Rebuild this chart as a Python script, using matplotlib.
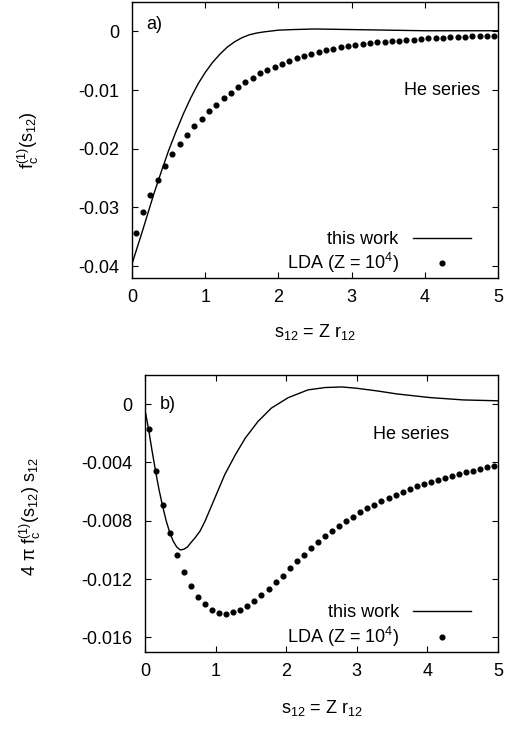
import numpy as np
import matplotlib
matplotlib.use("Agg")
import matplotlib.pyplot as plt

plt.rcParams['font.family'] = ['Liberation Sans', 'DejaVu Sans']
plt.rcParams['mathtext.fontset'] = 'custom'
plt.rcParams['mathtext.rm'] = 'Liberation Sans'
plt.rcParams['mathtext.it'] = 'Liberation Sans:italic'
FS = 13
plt.rcParams['font.size'] = FS

# LDA points (same grid for both panels)
s_lda = [0.05, 0.15, 0.25, 0.35, 0.45, 0.55, 0.65, 0.75, 0.85, 0.95,
         1.05, 1.15, 1.25, 1.35, 1.45, 1.55, 1.65, 1.75, 1.85, 1.95,
         2.05, 2.15, 2.25, 2.35, 2.45, 2.55, 2.65, 2.75, 2.85, 2.95,
         3.05, 3.15, 3.25, 3.35, 3.45, 3.55, 3.65, 3.75, 3.85, 3.95,
         4.05, 4.15, 4.25, 4.35, 4.45, 4.55, 4.65, 4.75, 4.85, 4.95]

fa_lda = [-0.0343, -0.03085, -0.02785, -0.02525, -0.02294, -0.02096, -0.01921, -0.01763, -0.01616, -0.01486,
          -0.01356, -0.01249, -0.01141, -0.01045, -0.00955, -0.0087, -0.0079, -0.00717, -0.00655, -0.00599,
          -0.00548, -0.00497, -0.00452, -0.00412, -0.00378, -0.0035, -0.00316, -0.00294, -0.00271, -0.00249,
          -0.00232, -0.00215, -0.00200, -0.0019, -0.0018, -0.0017, -0.0016, -0.0015, -0.0014, -0.00128,
          -0.0012, -0.00113, -0.00106, -0.0010, -0.00096, -0.0009, -0.00085, -0.0008, -0.00076, -0.00072]

fb_lda = [-0.00171, -0.00461, -0.00695, -0.00882, -0.01032, -0.01154, -0.01247, -0.0132, -0.01374, -0.01413,
          -0.01432, -0.01436, -0.01427, -0.01409, -0.01381, -0.0135, -0.01306, -0.0127, -0.0122, -0.01176,
          -0.01126, -0.01078, -0.01033, -0.0099, -0.00948, -0.00905, -0.00869, -0.00837, -0.00803, -0.00771,
          -0.00741, -0.00714, -0.00689, -0.00663, -0.00641, -0.0062, -0.006, -0.00581, -0.00563, -0.00547,
          -0.00531, -0.00518, -0.00504, -0.0049, -0.00479, -0.00468, -0.00456, -0.00444, -0.00433, -0.00422]

# this work, panel a
s_a = [0.0, 0.15, 0.3, 0.4, 0.5, 0.6, 0.7, 0.8, 0.9, 1.0, 1.1, 1.2, 1.3, 1.4,
       1.5, 1.6, 1.7, 1.8, 2.0, 2.2, 2.5, 3.0, 3.5, 4.0, 5.0]
f_a = [-0.0396, -0.0337, -0.0276, -0.0239, -0.0203, -0.0171, -0.0141, -0.0114, -0.0090, -0.0070,
       -0.0053, -0.0039, -0.0027, -0.0018, -0.0011, -0.0006, -0.0003, -0.0001, 0.0002, 0.0003, 0.0004,
       0.0003, 0.0002, 0.0001, 0.0001]

# this work, panel b
s_b = [0.0, 0.05, 0.1, 0.15, 0.2, 0.25, 0.3, 0.35, 0.4, 0.45, 0.5, 0.55, 0.6, 0.65, 0.71, 0.78, 0.85,
       0.99, 1.13, 1.28, 1.42, 1.6, 1.79, 2.03, 2.31, 2.55, 2.79, 3.0, 3.3, 3.57, 4.04, 4.51, 5.0]
f_b = [-0.0004, -0.0017, -0.0032, -0.0046, -0.0059, -0.0070, -0.0080, -0.0088, -0.0094, -0.0098,
       -0.0100, -0.00995, -0.0098, -0.0095, -0.00916, -0.0087, -0.00803, -0.00643, -0.00483, -0.00347,
       -0.00233, -0.00119, -0.00027, 0.00045, 0.00098, 0.00114, 0.00118, 0.00109, 0.0009, 0.0007,
       0.00045, 0.00029, 0.00023]

fig = plt.figure(figsize=(5.07, 7.29), dpi=100)
ax1 = fig.add_axes([0.2604, 0.6187, 0.7218, 0.3786])
ax2 = fig.add_axes([0.286, 0.1056, 0.6962, 0.38])


def style(ax):
    ax.set_xlim(0, 5)
    ax.set_xticks([0, 1, 2, 3, 4, 5])
    ax.tick_params(direction='in', top=True, right=True, length=4.5, width=0.8, labelsize=FS)
    ax.tick_params(axis='x', pad=8)
    ax.tick_params(axis='y', pad=9)
    for sp in ax.spines.values():
        sp.set_linewidth(1.0)


def legend(ax, lines, xa, ya):
    l1 = ax.legend([lines[0]], ['this work'], loc='center right', bbox_to_anchor=(xa, ya[0]),
                   frameon=False, markerfirst=False, handlelength=3.2, handletextpad=0.8,
                   borderpad=0, borderaxespad=0, fontsize=FS)
    ax.add_artist(l1)
    ax.legend([lines[1]], [r'LDA (Z = $\mathregular{10^4}$)'], loc='center right',
              bbox_to_anchor=(xa, ya[1]), frameon=False, markerfirst=False, handlelength=3.2,
              handletextpad=0.8, borderpad=0, borderaxespad=0, numpoints=1, fontsize=FS)


# panel a
la, = ax1.plot(s_a, f_a, color='black', lw=1.0)
da, = ax1.plot(s_lda, fa_lda, 'o', color='black', ms=3.4, ls='none')
style(ax1)
ax1.set_ylim(-0.042, 0.005)
ax1.set_yticks([0, -0.01, -0.02, -0.03, -0.04])
ax1.set_yticklabels(['0', '-0.01', '-0.02', '-0.03', '-0.04'])
ax1.set_ylabel(r'$\mathregular{f_c^{(1)}(s_{12})}$', fontsize=FS)
ax1.yaxis.set_label_coords(-0.25, 0.5)
ax1.set_xlabel(r'$\mathregular{s_{12}}$ = Z $\mathregular{r_{12}}$', fontsize=FS)
ax1.xaxis.set_label_coords(0.5, -0.16)
ax1.text(0.038, 0.917, 'a)', transform=ax1.transAxes, ha='left', va='center', fontsize=FS)
ax1.text(0.951, 0.681, 'He series', transform=ax1.transAxes, ha='right', va='center', fontsize=FS)
legend(ax1, [la, da], 0.926, [0.1377, 0.054])

# panel b
lb, = ax2.plot(s_b, f_b, color='black', lw=1.0)
db, = ax2.plot(s_lda, fb_lda, 'o', color='black', ms=3.4, ls='none')
style(ax2)
ax2.set_ylim(-0.017, 0.002)
ax2.set_yticks([0, -0.004, -0.008, -0.012, -0.016])
ax2.set_yticklabels(['0', '-0.004', '-0.008', '-0.012', '-0.016'])
ax2.set_ylabel(r'$\mathregular{4\ \pi\ f_c^{(1)}(s_{12})\ s_{12}}$', fontsize=FS)
ax2.yaxis.set_label_coords(-0.29, 0.487)
ax2.set_xlabel(r'$\mathregular{s_{12}}$ = Z $\mathregular{r_{12}}$', fontsize=FS)
ax2.xaxis.set_label_coords(0.5, -0.165)
ax2.text(0.042, 0.895, 'b)', transform=ax2.transAxes, ha='left', va='center', fontsize=FS)
ax2.text(0.861, 0.787, 'He series', transform=ax2.transAxes, ha='right', va='center', fontsize=FS)
legend(ax2, [lb, db], 0.9235, [0.141, 0.054])

fig.savefig('out.png', dpi=100)
